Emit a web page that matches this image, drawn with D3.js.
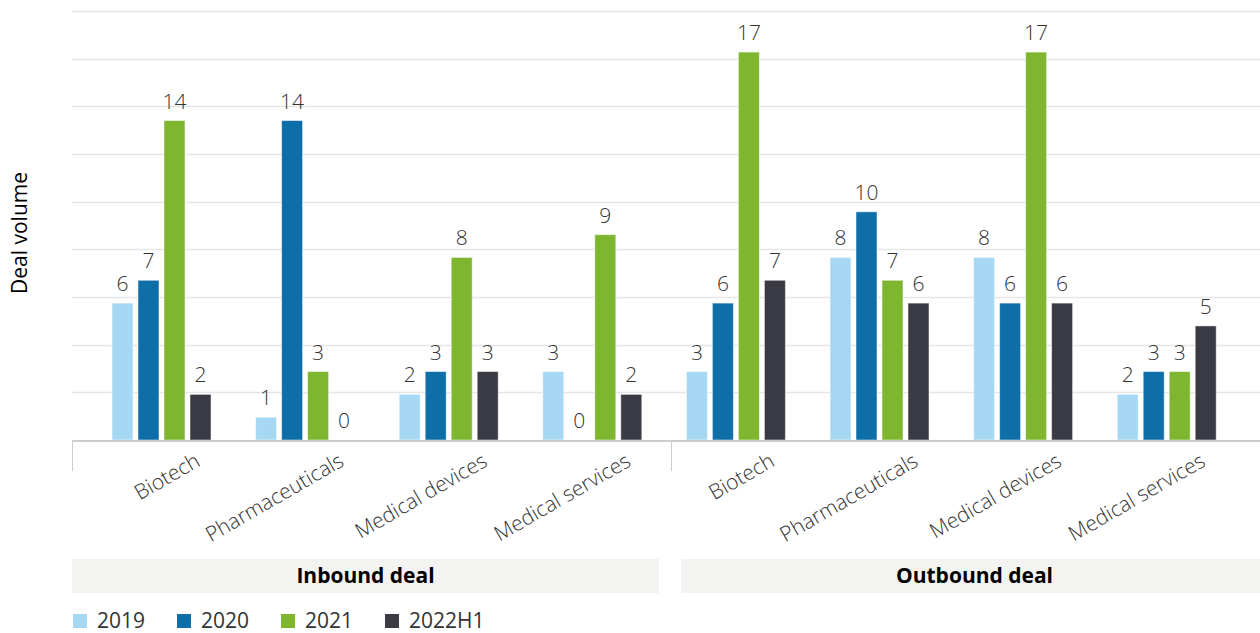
<!DOCTYPE html>
<html>
<head>
<meta charset="utf-8">
<script src="https://cdn.jsdelivr.net/npm/d3@7/dist/d3.min.js"></script>
<style>
  html, body { margin: 0; padding: 0; background: #fff; overflow: hidden; }
  svg { display: block; font-family: "Open Sans", "Noto Sans", sans-serif; }
</style>
</head>
<body>
<svg id="chart" width="1260" height="633"></svg>
<script>
// ---- data ----
const groups = ["Inbound deal", "Outbound deal"];
const categories = ["Biotech", "Pharmaceuticals", "Medical devices", "Medical services"];
const seriesNames = ["2019", "2020", "2021", "2022H1"];
const seriesColors = ["#a7d8f3", "#0e6ea8", "#7eb62f", "#393a43"];
const inbound2019 = [6, 1, 2, 3];
const inbound2020 = [7, 14, 3, 0];
const inbound2021 = [14, 3, 8, 9];
const inbound2022H1 = [2, 0, 3, 2];
const outbound2019 = [3, 8, 8, 2];
const outbound2020 = [6, 10, 6, 3];
const outbound2021 = [17, 7, 17, 3];
const outbound2022H1 = [7, 6, 6, 5];
const yTitle = "Deal volume";

const seriesValues = [
  inbound2019.concat(outbound2019),
  inbound2020.concat(outbound2020),
  inbound2021.concat(outbound2021),
  inbound2022H1.concat(outbound2022H1)
];
const keys = [];
groups.forEach(g => categories.forEach(c => keys.push(g + "|" + c)));

// ---- layout ----
const svg = d3.select("#chart");
const plotLeft = 72, plotRight = 1270, plotTop = 11, baseY = 440;
const yMax = 18.8;

const x0 = d3.scaleBand().domain(keys).range([89.7, 1238.5]).padding(0);
const x1 = d3.scaleBand().domain(seriesNames).range([0, 99]).paddingInner(5 / 26).paddingOuter(0);
const y = d3.scaleLinear().domain([0, yMax]).range([baseY, plotTop]);

// gridlines
const gridVals = d3.range(1, 10).map(i => i * yMax / 9);
svg.append("g").selectAll("line").data(gridVals).join("line")
  .attr("x1", plotLeft).attr("x2", plotRight)
  .attr("y1", d => Math.round(y(d)) + 0.5).attr("y2", d => Math.round(y(d)) + 0.5)
  .attr("stroke", "#e6e6e6").attr("stroke-width", 1.5);

// bars
const barG = svg.append("g");
seriesNames.forEach((s, si) => {
  const data = keys.map((k, i) => ({ k, v: seriesValues[si][i] }));
  barG.append("g").selectAll("rect").data(data).join("rect")
    .attr("x", d => x0(d.k) + x0.bandwidth() / 2 - 49.5 + x1(s))
    .attr("y", d => y(d.v))
    .attr("width", x1.bandwidth())
    .attr("height", d => baseY - y(d.v))
    .attr("fill", seriesColors[si])
    .attr("stroke", "#ffffff").attr("stroke-opacity", 0.5).attr("stroke-width", 1);
  barG.append("g").selectAll("text").data(data).join("text")
    .attr("x", d => x0(d.k) + x0.bandwidth() / 2 - 49.5 + x1(s) + x1.bandwidth() / 2)
    .attr("y", d => y(d.v) - 12)
    .attr("text-anchor", "middle")
    .attr("font-size", 21).attr("font-weight", 300).attr("fill", "#333")
    .text(d => d.v);
});

// axis line
svg.append("line").attr("x1", plotLeft).attr("x2", plotRight)
  .attr("y1", baseY + 1).attr("y2", baseY + 1)
  .attr("stroke", "#cccccc").attr("stroke-width", 2);

// group dividers
const divider = plotLeft + (plotRight - plotLeft) / 2;
svg.append("g").selectAll("line").data([plotLeft + 0.5, divider + 0.5]).join("line")
  .attr("x1", d => d).attr("x2", d => d)
  .attr("y1", baseY + 2).attr("y2", 471)
  .attr("stroke", "#cccccc").attr("stroke-width", 1);

// category labels
svg.append("g").selectAll("text").data(keys).join("text")
  .attr("transform", k => `translate(${x0(k) + x0.bandwidth() / 2 + 40},465) rotate(-30)`)
  .attr("text-anchor", "end")
  .attr("font-size", 21).attr("font-weight", 300).attr("fill", "#333")
  .text(k => k.split("|")[1]);

// group bands
const bandSpans = [[plotLeft, divider - 12], [divider + 10, plotRight - 2]];
const bandG = svg.append("g");
bandG.selectAll("rect").data(groups).join("rect")
  .attr("x", (g, i) => bandSpans[i][0])
  .attr("width", (g, i) => bandSpans[i][1] - bandSpans[i][0])
  .attr("y", 559).attr("height", 34)
  .attr("fill", "#f3f3f1");
bandG.selectAll("text").data(groups).join("text")
  .attr("x", (g, i) => (bandSpans[i][0] + bandSpans[i][1]) / 2)
  .attr("y", 583)
  .attr("text-anchor", "middle")
  .attr("font-size", 21).attr("font-weight", 700).attr("fill", "#000")
  .text(g => g);

// y axis title
svg.append("text")
  .attr("transform", "translate(27,233) rotate(-90)")
  .attr("text-anchor", "middle")
  .attr("font-size", 21).attr("fill", "#000")
  .text(yTitle);

// legend
const leg = svg.append("g").selectAll("g").data(seriesNames).join("g")
  .attr("transform", (d, i) => `translate(${73 + i * 104},0)`);
leg.append("rect").attr("x", 0).attr("y", 614).attr("width", 14).attr("height", 14)
  .attr("fill", (d, i) => seriesColors[i]);
leg.append("text").attr("x", 24).attr("y", 628)
  .attr("font-size", 21).attr("fill", "#333")
  .text(d => d);
</script>
</body>
</html>
